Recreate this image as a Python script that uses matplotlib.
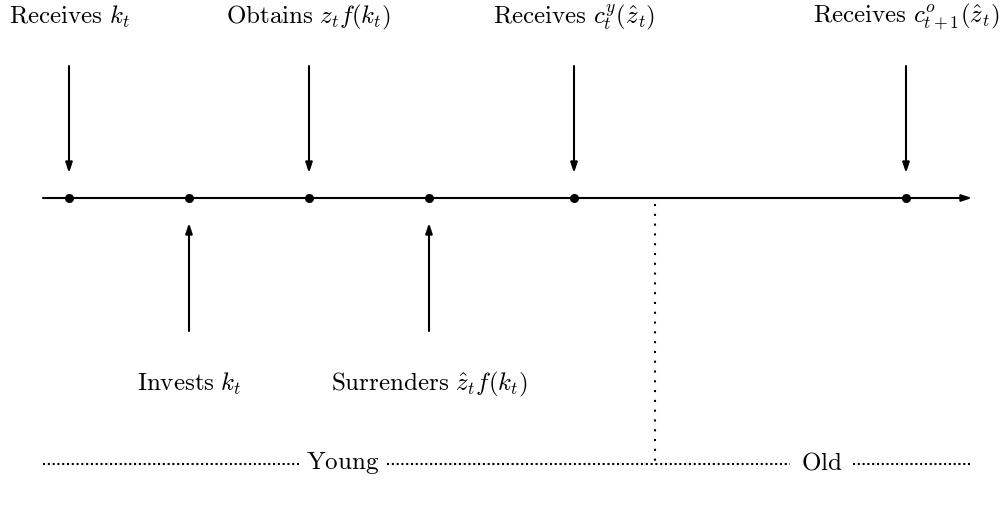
import matplotlib
matplotlib.use("Agg")
import matplotlib.pyplot as plt

plt.rcParams['mathtext.fontset'] = 'cm'

# Event positions along the timeline (pixel-like units)
dot_x = [69, 189, 309, 429, 574, 906]
down_x = [69, 309, 574, 906]
down_labels = [r'$\mathrm{Receives}\ k_t$', r'$\mathrm{Obtains}\ z_t f(k_t)$',
               r'$\mathrm{Receives}\ c^y_t(\hat{z}_t)$', r'$\mathrm{Receives}\ c^o_{t+1}(\hat{z}_t)$']
up_x = [189, 429]
up_labels = [r'$\mathrm{Invests}\ k_t$', r'$\mathrm{Surrenders}\ \hat{z}_t f(k_t)$']
split_x = 655
line_start, line_end = 43, 972
phase_labels = [r'$\mathrm{Young}$', r'$\mathrm{Old}$']
phase_x = [343, 822]

fig = plt.figure(figsize=(10.05, 5.09), dpi=100)
ax = fig.add_axes([0, 0, 1, 1])
ax.set_xlim(0, 1005)
ax.set_ylim(509, 0)
ax.axis('off')

y_line = 198
fs = 18

# timeline
ax.annotate('', xy=(line_end, y_line), xytext=(line_start, y_line),
            arrowprops=dict(arrowstyle='-|>,head_length=0.6,head_width=0.2', color='black', lw=1.5,
                            shrinkA=0, shrinkB=0))
ax.plot(dot_x, [y_line] * len(dot_x), 'o', color='black', ms=5.5)

for x, lab in zip(down_x, down_labels):
    ax.annotate('', xy=(x, 173), xytext=(x, 66),
                arrowprops=dict(arrowstyle='-|>,head_length=0.6,head_width=0.2', color='black', lw=1.5,
                                shrinkA=0, shrinkB=0))
    ax.text(x, 17, lab, ha='center', va='center', fontsize=fs)

for x, lab in zip(up_x, up_labels):
    ax.annotate('', xy=(x, 223), xytext=(x, 331),
                arrowprops=dict(arrowstyle='-|>,head_length=0.6,head_width=0.2', color='black', lw=1.5,
                                shrinkA=0, shrinkB=0))
    ax.text(x, 384, lab, ha='center', va='center', fontsize=fs)

# dotted split
ax.plot([split_x, split_x], [204, 464], color='black', lw=1.5, linestyle=(0, (1, 3.7)))
dot_style = dict(color='black', lw=1.5, linestyle=(0, (1, 1.3)))
y_b = 464
ax.plot([line_start, 300], [y_b, y_b], **dot_style)
ax.plot([387, 790], [y_b, y_b], **dot_style)
ax.plot([853, line_end], [y_b, y_b], **dot_style)
for x, lab in zip(phase_x, phase_labels):
    ax.text(x, y_b - 1, lab, ha='center', va='center', fontsize=fs)

fig.savefig('out.png', dpi=100)
